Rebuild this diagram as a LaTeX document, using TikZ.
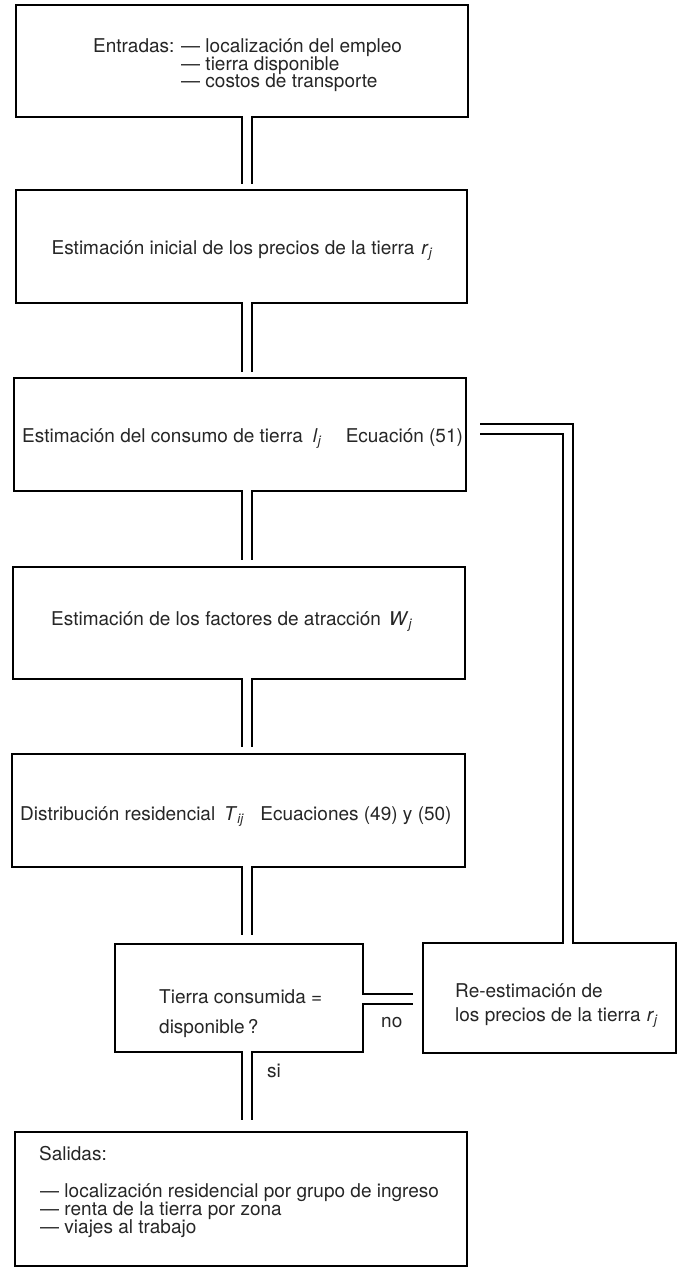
\documentclass[tikz,border=0pt]{standalone}
\usepackage{fontspec}
\setmainfont{TeX Gyre Heros}
\usetikzlibrary{calc}
\newcommand{\vj}[1]{\textit{#1}\textsubscript{\textit{j}}}
\begin{document}
\begin{tikzpicture}[x=1pt,y=-1pt,
  box/.style={draw, line width=2pt, outer sep=0pt, inner sep=0pt, anchor=north west},
  pipe/.style={draw, line width=2pt, double=white, double distance=8pt, line cap=butt, line join=miter},
  lbl/.style={font=\fontsize{19}{19}\selectfont, inner sep=0pt, text=black!85}]
\useasboundingbox (0,0) rectangle (678,1268);
\fill[white] (0,0) rectangle (678,1268);
% boxes
\node[box, minimum width=452pt, minimum height=112pt] (b1) at (16,5) {};
\node[box, minimum width=451pt, minimum height=113pt] (b2) at (16,190) {};
\node[box, minimum width=452pt, minimum height=113pt] (b3) at (14,378) {};
\node[box, minimum width=452pt, minimum height=112pt] (b4) at (13,567) {};
\node[box, minimum width=453pt, minimum height=113pt] (b5) at (12,754) {};
\node[box, minimum width=248pt, minimum height=108pt] (b6) at (115,944) {};
\node[box, minimum width=253pt, minimum height=110pt] (b7) at (423,943) {};
\node[box, minimum width=452pt, minimum height=134pt] (b8) at (15,1132) {};
% helper coordinates
\coordinate (px) at (247,0);
\coordinate (fx) at (568,0);
\coordinate (fy) at (0,429);
\coordinate (ny) at (0,998.5);
% pipes
\draw[pipe] ($(b1.south -| px)+(0,-1)$) -- ($(b2.north -| px)+(0,-6)$);
\draw[pipe] ($(b2.south -| px)+(0,-1)$) -- ($(b3.north -| px)+(0,-6)$);
\draw[pipe] ($(b3.south -| px)+(0,-1)$) -- ($(b4.north -| px)+(0,-7)$);
\draw[pipe] ($(b4.south -| px)+(0,-1)$) -- ($(b5.north -| px)+(0,-7)$);
\draw[pipe] ($(b5.south -| px)+(0,-1)$) -- ($(b6.north -| px)+(0,-9)$);
\draw[pipe] ($(b6.south -| px)+(0,-1)$) -- ($(b8.north -| px)+(0,-12)$);
\draw[pipe] ($(b6.east |- ny)+(-1,0)$) -- ($(b7.west |- ny)+(-10,0)$);
\draw[pipe] ($(b7.north -| fx)+(0,1)$) |- ($(b3.east |- fy)+(14,0)$);
% texts
\node[lbl, anchor=base west] (t1) at (93,53) {Entradas:};
\node[lbl, anchor=base west] (t1a) at (181,53) {— localización del empleo};
\node[lbl, anchor=base west] (t1b) at (181,70.5) {— tierra disponible};
\node[lbl, anchor=base west] (t1c) at (181,88) {— costos de transporte};
\node[lbl, anchor=base east] (t2) at (433,254) {Estimación inicial de los precios de la tierra\hspace{7pt}\vj{r}};
\node[lbl, anchor=base west] (t3) at (22,442) {Estimación del consumo de tierra\hspace{10pt}\vj{l}\hspace{24pt}Ecuación (51)};
\node[lbl, anchor=base west] (t4) at (51,625) {Estimación de los factores de atracción\hspace{8pt}\vj{W}};
\node[lbl, anchor=base west] (t5) at (20,820) {Distribución residencial\hspace{9pt}\textit{T}\textsubscript{\textit{ij}}\hspace{16pt}Ecuaciones (49) y (50)};
\node[lbl, anchor=base west] (t6a) at (159,1003) {Tierra consumida =};
\node[lbl, anchor=base west] (t6b) at (159,1033) {disponible\,?};
\node[lbl, anchor=base west] (t7a) at (455,997) {Re-estimación de};
\node[lbl, anchor=base west] (t7b) at (455,1021) {los precios de la tierra\hspace{6pt}\vj{r}};
\node[lbl, anchor=base west] (tno) at (381,1027) {no};
\node[lbl, anchor=base west] (tsi) at (267,1077) {si};
\node[lbl, anchor=base west] (t8) at (39,1160) {Salidas:};
\node[lbl, anchor=base west] (t8a) at (40,1197) {— localización residencial por grupo de ingreso};
\node[lbl, anchor=base west] (t8b) at (40,1215) {— renta de la tierra por zona};
\node[lbl, anchor=base west] (t8c) at (40,1233) {— viajes al trabajo};
\end{tikzpicture}
\end{document}
